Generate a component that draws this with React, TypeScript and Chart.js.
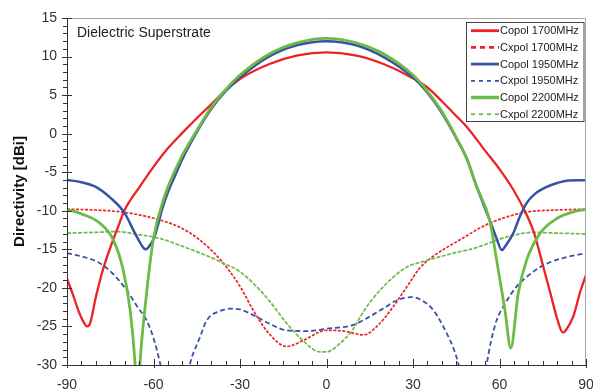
import React, { useEffect, useRef } from "react";
import { Chart, registerables } from "chart.js";

Chart.register(...registerables);

// ---- data (angle in degrees, directivity in dBi) ----
const copol1700Angle = [-90, -88, -86, -84, -83, -82, -80, -77.5, -75, -72.5, -70, -65, -60, -55, -50, -45, -40, -35, -30, -20, -10, 0, 10, 20, 30, 35, 40, 45, 48.6, 55, 60, 65, 69, 72, 75, 78, 80, 82, 83, 85.6, 88, 90];
const copol1700Dir = [-18.8, -20.8, -23, -24.6, -25, -24.6, -21.2, -17.6, -14.8, -12.3, -9.9, -7.0, -4.3, -1.9, 0.1, 2.0, 3.8, 5.6, 7.1, 9.0, 10.15, 10.55, 10.15, 9.0, 7.2, 6.0, 4.2, 2.3, 0.9, -2.2, -4.6, -7.4, -10.2, -12.9, -17.0, -21.2, -24, -25.8, -25.5, -23.7, -20.5, -18.3];

const cxpol1700Angle = [-90, -80, -70.2, -57.7, -50, -43.9, -36.9, -30, -25.4, -20, -13.8, -8, 0, 6, 12.8, 18, 23.2, 28, 32.4, 37, 45.2, 56.7, 68.9, 80, 90];
const cxpol1700Dir = [-9.8, -9.9, -10.2, -11.2, -12.3, -13.8, -16.3, -19.8, -22.9, -25.9, -27.6, -26.8, -25.5, -25.6, -26.1, -24.8, -22.4, -19.8, -17.4, -15.9, -14.0, -11.6, -10.2, -9.9, -9.8];

const copol1950Angle = [-90, -85, -80, -75, -70, -67, -65, -63.5, -62.6, -61.5, -60, -59, -57, -55, -52, -50, -45, -40, -35, -30, -20, -10, 0, 10, 20, 30, 35, 40, 45, 48.6, 52, 55, 57, 59, 60.8, 62, 64.8, 67, 69.4, 72, 76.4, 80, 83.3, 87, 90];
const copol1950Dir = [-6, -6.3, -6.9, -8.3, -10.3, -12.5, -13.9, -14.8, -15, -14.6, -13.7, -12.6, -9.8, -7.6, -5.0, -3.3, 0.2, 3.2, 5.5, 7.3, 10.0, 11.5, 12.0, 11.5, 9.9, 7.3, 5.3, 2.7, -0.6, -3.2, -6.8, -9.7, -11.6, -13.6, -15.1, -14.6, -12.9, -10.8, -9.0, -7.9, -6.9, -6.4, -6.1, -6.05, -6.05];

const cxpol1950Angle = [-90, -84, -78.6, -74, -69.3, -65.5, -62.4, -60, -57.7, -56, -49, -47.3, -44, -41.5, -37, -33.5, -30, -25, -20, -13.8, -6, 0, 9.3, 15.1, 20, 24.4, 29.6, 33, 37.1, 41.7, 44, 45.7, 47.5, 54, 55.6, 57, 59, 62, 66, 70, 74.1, 78, 83.3, 90];
const cxpol1950Dir = [-15.5, -16, -16.8, -18.2, -20.3, -22.5, -24.2, -26.5, -29.8, -33, -33, -29.8, -26.5, -24.2, -23.0, -22.7, -22.8, -23.6, -24.6, -25.5, -25.6, -25.3, -24.8, -23.7, -22.6, -21.6, -21.2, -21.6, -22.9, -25.9, -27.8, -29.8, -33, -33, -29.8, -27, -24.2, -22, -19.8, -18.4, -17.3, -16.6, -16, -15.5];

const copol2200Angle = [-90, -85, -78.6, -73.9, -70.5, -68.1, -66.4, -65.6, -64.7, -62.4, -60.1, -56.6, -50.8, -45, -40, -35, -30, -20, -10, 0, 10, 20, 30, 35, 40, 45, 48.6, 52, 56.7, 59, 61.9, 63.9, 66.5, 69.4, 74.1, 79.9, 85, 90];
const copol2200Dir = [-9.8, -10.4, -11.6, -13.8, -17.7, -22.9, -29.8, -36, -29.8, -20.7, -13.8, -8.6, -3.4, 0.4, 3.4, 5.7, 7.6, 10.3, 11.8, 12.35, 11.8, 10.3, 7.6, 5.5, 2.9, -0.5, -3.2, -6.8, -11.4, -16.4, -22.9, -27.8, -20.7, -16.4, -12.9, -11, -10.2, -9.8];

const cxpol2200Angle = [-90, -80, -72.8, -65, -57.7, -50, -40.4, -36.9, -30, -25.4, -20, -13.8, -8, -2.3, 0, 4.7, 9.3, 12, 15, 20.9, 27.8, 32.4, 37.1, 45, 50.9, 62.5, 71.7, 80, 90];
const cxpol2200Dir = [-12.9, -12.8, -12.7, -13.1, -13.6, -14.6, -16, -16.6, -17.9, -19.4, -21.6, -24.6, -26.9, -28.3, -28.3, -27.2, -25.3, -23.6, -21.9, -19.4, -17.3, -16.7, -16.2, -15.4, -14.9, -13.4, -12.8, -12.9, -13];

const seriesLabels = ["Copol 1700MHz", "Cxpol 1700MHz", "Copol 1950MHz", "Cxpol 1950MHz", "Copol 2200MHz", "Cxpol 2200MHz"];
const xTickValues = [-90, -60, -30, 0, 30, 60, 90];
const yTickValues = [-30, -25, -20, -15, -10, -5, 0, 5, 10, 15];
const xMinorStep = 5;
const yMinorStep = 1;
const annotationText = "Dielectric Superstrate";
const yAxisTitle = "Directivity [dBi]";

const RED = "#ec2227";
const BLUE = "#3a52a3";
const GREEN = "#6cbb46";
const FONT = "'Liberation Sans', Arial, sans-serif";

function pts(xs: number[], ys: number[]) {
  return xs.map((x, i) => ({ x, y: ys[i] }));
}

const legendStyle = [
  { color: RED, width: 2.8, dash: [] as number[] },
  { color: RED, width: 2.8, dash: [5, 4] },
  { color: BLUE, width: 2.8, dash: [] as number[] },
  { color: BLUE, width: 1.8, dash: [4, 4] },
  { color: GREEN, width: 3.5, dash: [] as number[] },
  { color: GREEN, width: 1.8, dash: [4, 4] },
];

const decor = {
  id: "decor",
  afterDatasetsDraw(chart: any) {
    const { ctx, chartArea, scales } = chart;
    const { left, right, top, bottom } = chartArea;
    const x = scales.x;
    const y = scales.y;
    ctx.save();
    // top / right frame
    ctx.strokeStyle = "#a8a8a8";
    ctx.lineWidth = 1;
    ctx.setLineDash([]);
    ctx.beginPath();
    ctx.moveTo(left, top + 0.5);
    ctx.lineTo(right - 0.5, top + 0.5);
    ctx.lineTo(right - 0.5, bottom);
    ctx.stroke();
    // axes
    ctx.strokeStyle = "#333";
    ctx.beginPath();
    ctx.moveTo(left + 0.5, top);
    ctx.lineTo(left + 0.5, bottom + 0.5);
    ctx.lineTo(right, bottom + 0.5);
    ctx.stroke();
    // y ticks
    ctx.beginPath();
    for (let v = y.min; v <= y.max + 1e-9; v += yMinorStep) {
      const py = Math.round(y.getPixelForValue(v)) + 0.5;
      const major = Math.abs(v % 5) < 1e-9;
      ctx.moveTo(major ? left - 5 : left - 4, py);
      ctx.lineTo(major ? left + 5 : left, py);
    }
    // x ticks
    for (let v = x.min; v <= x.max + 1e-9; v += xMinorStep) {
      const px = Math.round(x.getPixelForValue(v)) + 0.5;
      const major = Math.abs(v % 30) < 1e-9;
      ctx.moveTo(px, major ? bottom + 3 : bottom);
      ctx.lineTo(px, major ? bottom - 6 : bottom - 4);
    }
    ctx.stroke();

    // annotation text
    ctx.fillStyle = "#222";
    ctx.font = `14px ${FONT}`;
    ctx.textAlign = "left";
    ctx.textBaseline = "alphabetic";
    ctx.fillText(annotationText, left + 10, top + 19);

    // legend box
    const bx = 466.5, by = 22.5, bw = 117.5, bh = 99;
    ctx.fillStyle = "#fff";
    ctx.fillRect(bx, by, bw, bh);
    ctx.strokeStyle = "#444";
    ctx.lineWidth = 1;
    ctx.strokeRect(bx, by, bw, bh);
    ctx.font = `11px ${FONT}`;
    ctx.textBaseline = "middle";
    seriesLabels.forEach((label, i) => {
      const ly = 30.7 + i * 16.7;
      const st = legendStyle[i];
      ctx.strokeStyle = st.color;
      ctx.lineWidth = st.width;
      ctx.setLineDash(st.dash);
      ctx.beginPath();
      ctx.moveTo(471, ly);
      ctx.lineTo(499, ly);
      ctx.stroke();
      ctx.setLineDash([]);
      ctx.fillStyle = "#222";
      ctx.fillText(label, 500, ly + 0.5);
    });
    ctx.restore();
  },
};

export default function App() {
  const ref = useRef<HTMLCanvasElement>(null);
  useEffect(() => {
    document.body.style.margin = "0";
    const canvas = ref.current!;
    const common = { pointRadius: 0, fill: false, cubicInterpolationMode: "monotone" as const };
    const chart = new Chart(canvas, {
      type: "line",
      data: {
        datasets: [
          { ...common, label: seriesLabels[0], data: pts(copol1700Angle, copol1700Dir), borderColor: RED, borderWidth: 2.3, order: 2 },
          { ...common, label: seriesLabels[1], data: pts(cxpol1700Angle, cxpol1700Dir), borderColor: RED, borderWidth: 1.7, borderDash: [3, 1.5], order: 5 },
          { ...common, label: seriesLabels[2], data: pts(copol1950Angle, copol1950Dir), borderColor: BLUE, borderWidth: 2.5, order: 1 },
          { ...common, label: seriesLabels[3], data: pts(cxpol1950Angle, cxpol1950Dir), borderColor: BLUE, borderWidth: 1.8, borderDash: [5, 3], order: 4 },
          { ...common, label: seriesLabels[4], data: pts(copol2200Angle, copol2200Dir), borderColor: GREEN, borderWidth: 2.8, order: 0 },
          { ...common, label: seriesLabels[5], data: pts(cxpol2200Angle, cxpol2200Dir), borderColor: GREEN, borderWidth: 1.7, borderDash: [4, 1.5], order: 3 },
        ],
      },
      options: {
        animation: false,
        responsive: false,
        layout: { padding: { left: 0, top: 18, right: 7, bottom: 0 } },
        plugins: { legend: { display: false }, tooltip: { enabled: false } },
        scales: {
          x: {
            type: "linear",
            min: -90,
            max: 90,
            afterBuildTicks: (s: any) => {
              s.ticks = xTickValues.map((v) => ({ value: v }));
            },
            afterFit: (s: any) => {
              s.height = 27;
              s.paddingLeft = 0;
              s.paddingRight = 0;
            },
            grid: { display: false, drawTicks: false },
            border: { display: false },
            ticks: { font: { family: FONT, size: 14 }, color: "#333", padding: 12, maxRotation: 0, autoSkip: false },
          },
          y: {
            type: "linear",
            min: -30,
            max: 15,
            afterBuildTicks: (s: any) => {
              s.ticks = yTickValues.map((v) => ({ value: v }));
            },
            afterFit: (s: any) => {
              s.width = 67;
              s.paddingTop = 0;
              s.paddingBottom = 0;
            },
            grid: { display: false, drawTicks: false },
            border: { display: false },
            ticks: { font: { family: FONT, size: 14 }, color: "#333", padding: 10, autoSkip: false },
            title: {
              display: true,
              text: yAxisTitle,
              font: { family: FONT, size: 15, weight: "bold" },
              color: "#111",
              padding: { top: 11, bottom: 0 },
            },
          },
        },
      },
      plugins: [decor],
    });
    return () => chart.destroy();
  }, []);
  return (
    <div style={{ width: 593, height: 392 }}>
      <canvas ref={ref} width={593} height={392} style={{ display: "block" }} />
    </div>
  );
}
